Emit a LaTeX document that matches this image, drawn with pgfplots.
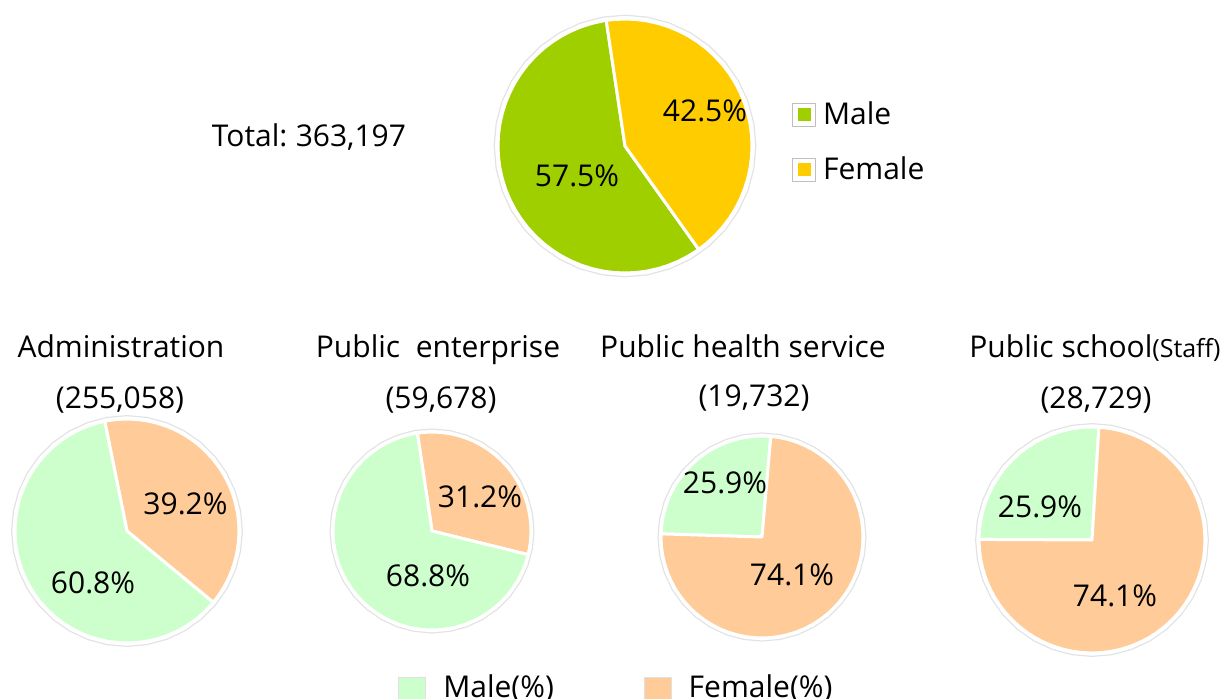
\documentclass[border=0pt]{standalone}
\usepackage{fontspec}
\setmainfont{Open Sans}
\usepackage{pgfplots}
\usepackage{pgfplotstable}
\pgfplotsset{compat=1.18}
\usepgfplotslibrary{polar}
\definecolor{tmale}{HTML}{A0CF00}
\definecolor{tfem}{HTML}{FFCC00}
\definecolor{bmale}{HTML}{CCFFCC}
\definecolor{bfem}{HTML}{FFCC99}
\newcommand{\lf}{\fontsize{15}{18}\selectfont}
\pgfplotstableread{
a r
0 1.03
10 1.03
20 1.03
30 1.03
40 1.03
50 1.03
60 1.03
70 1.03
80 1.03
90 1.03
100 1.03
110 1.03
120 1.03
130 1.03
140 1.03
150 1.03
160 1.03
170 1.03
180 1.03
190 1.03
200 1.03
210 1.03
220 1.03
230 1.03
240 1.03
250 1.03
260 1.03
270 1.03
280 1.03
290 1.03
300 1.03
310 1.03
320 1.03
330 1.03
340 1.03
350 1.03
360 1.03
}\ring
\pgfplotsset{
 pie/.style={hide axis, scale only axis, anchor=center, clip=false, xmin=-1, xmax=1, ymin=-1, ymax=1, data cs=polar},
 slice/.style={draw=white, line width=1.5pt, line join=round},
 ringst/.style={draw=black!11, line width=0.6pt, forget plot},
}
\begin{document}
\begin{tikzpicture}
\path[use as bounding box] (0,0) rectangle (616pt,349pt);
\clip (0,0) rectangle (616pt,349pt);
% ---------- top pie ----------
\begin{axis}[pie, at={(312.5pt,276pt)}, width=127pt, height=127pt,
  legend style={draw=none, fill=none, at={(1.157,0.681)}, anchor=north west, inner sep=0pt, row sep=13.5pt, font=\lf,
    nodes={inner sep=0pt, text height=12pt, text depth=2pt},
    /tikz/every odd column/.append style={column sep=3.5pt}},
  legend cell align=left,
  legend image code/.code={\draw[draw=black!25, fill=white, line width=0.4pt] (0pt,-5.75pt) rectangle (11.5pt,5.75pt);
     \fill[#1, draw=none] (2.5pt,-3.25pt) rectangle (9pt,3.25pt);}]
\addplot[ringst] table[x=a,y=r]{\ring};
\addplot[slice, fill=tmale] coordinates {(0,0) (98.5,1) (100,1) (105,1) (110,1) (115,1) (120,1) (125,1) (130,1) (135,1) (140,1) (145,1) (150,1) (155,1) (160,1) (165,1) (170,1) (175,1) (180,1) (185,1) (190,1) (195,1) (200,1) (205,1) (210,1) (215,1) (220,1) (225,1) (230,1) (235,1) (240,1) (245,1) (250,1) (255,1) (260,1) (265,1) (270,1) (275,1) (280,1) (285,1) (290,1) (295,1) (300,1) (305,1) (305.5,1)} -- cycle;
\addlegendentry{Male}
\addplot[slice, fill=tfem] coordinates {(0,0) (305.5,1) (310,1) (315,1) (320,1) (325,1) (330,1) (335,1) (340,1) (345,1) (350,1) (355,1) (360,1) (365,1) (370,1) (375,1) (380,1) (385,1) (390,1) (395,1) (400,1) (405,1) (410,1) (415,1) (420,1) (425,1) (430,1) (435,1) (440,1) (445,1) (450,1) (455,1) (458.5,1)} -- cycle;
\addlegendentry{Female}
\end{axis}
% ---------- Administration ----------
\begin{axis}[pie, at={(63.5pt,83.5pt)}, width=112pt, height=112pt]
\addplot[ringst] table[x=a,y=r]{\ring};
\addplot[slice, fill=bfem] coordinates {(0,0) (-39.6,1) (-35,1) (-30,1) (-25,1) (-20,1) (-15,1) (-10,1) (-5,1) (0,1) (5,1) (10,1) (15,1) (20,1) (25,1) (30,1) (35,1) (40,1) (45,1) (50,1) (55,1) (60,1) (65,1) (70,1) (75,1) (80,1) (85,1) (90,1) (95,1) (100,1) (101.5,1)} -- cycle;
\addplot[slice, fill=bmale] coordinates {(0,0) (101.5,1) (105,1) (110,1) (115,1) (120,1) (125,1) (130,1) (135,1) (140,1) (145,1) (150,1) (155,1) (160,1) (165,1) (170,1) (175,1) (180,1) (185,1) (190,1) (195,1) (200,1) (205,1) (210,1) (215,1) (220,1) (225,1) (230,1) (235,1) (240,1) (245,1) (250,1) (255,1) (260,1) (265,1) (270,1) (275,1) (280,1) (285,1) (290,1) (295,1) (300,1) (305,1) (310,1) (315,1) (320,1) (320.4,1)} -- cycle;
\end{axis}
% ---------- Public enterprise ----------
\begin{axis}[pie, at={(216pt,83.5pt)}, width=99pt, height=99pt]
\addplot[ringst] table[x=a,y=r]{\ring};
\addplot[slice, fill=bfem] coordinates {(0,0) (-13.8,1) (-10,1) (-5,1) (0,1) (5,1) (10,1) (15,1) (20,1) (25,1) (30,1) (35,1) (40,1) (45,1) (50,1) (55,1) (60,1) (65,1) (70,1) (75,1) (80,1) (85,1) (90,1) (95,1) (98.5,1)} -- cycle;
\addplot[slice, fill=bmale] coordinates {(0,0) (98.5,1) (100,1) (105,1) (110,1) (115,1) (120,1) (125,1) (130,1) (135,1) (140,1) (145,1) (150,1) (155,1) (160,1) (165,1) (170,1) (175,1) (180,1) (185,1) (190,1) (195,1) (200,1) (205,1) (210,1) (215,1) (220,1) (225,1) (230,1) (235,1) (240,1) (245,1) (250,1) (255,1) (260,1) (265,1) (270,1) (275,1) (280,1) (285,1) (290,1) (295,1) (300,1) (305,1) (310,1) (315,1) (320,1) (325,1) (330,1) (335,1) (340,1) (345,1) (346.2,1)} -- cycle;
\end{axis}
% ---------- Public health service ----------
\begin{axis}[pie, at={(381pt,80.5pt)}, width=101pt, height=101pt]
\addplot[ringst] table[x=a,y=r]{\ring};
\addplot[slice, fill=bmale] coordinates {(0,0) (85,1) (90,1) (95,1) (100,1) (105,1) (110,1) (115,1) (120,1) (125,1) (130,1) (135,1) (140,1) (145,1) (150,1) (155,1) (160,1) (165,1) (170,1) (175,1) (178.2,1)} -- cycle;
\addplot[slice, fill=bfem] coordinates {(0,0) (178.2,1) (180,1) (185,1) (190,1) (195,1) (200,1) (205,1) (210,1) (215,1) (220,1) (225,1) (230,1) (235,1) (240,1) (245,1) (250,1) (255,1) (260,1) (265,1) (270,1) (275,1) (280,1) (285,1) (290,1) (295,1) (300,1) (305,1) (310,1) (315,1) (320,1) (325,1) (330,1) (335,1) (340,1) (345,1) (350,1) (355,1) (360,1) (365,1) (370,1) (375,1) (380,1) (385,1) (390,1) (395,1) (400,1) (405,1) (410,1) (415,1) (420,1) (425,1) (430,1) (435,1) (440,1) (445,1)} -- cycle;
\end{axis}
% ---------- Public school (Staff) ----------
\begin{axis}[pie, at={(546pt,79pt)}, width=113pt, height=113pt]
\addplot[ringst] table[x=a,y=r]{\ring};
\addplot[slice, fill=bmale] coordinates {(0,0) (86.5,1) (90,1) (95,1) (100,1) (105,1) (110,1) (115,1) (120,1) (125,1) (130,1) (135,1) (140,1) (145,1) (150,1) (155,1) (160,1) (165,1) (170,1) (175,1) (179.7,1)} -- cycle;
\addplot[slice, fill=bfem] coordinates {(0,0) (179.7,1) (180,1) (185,1) (190,1) (195,1) (200,1) (205,1) (210,1) (215,1) (220,1) (225,1) (230,1) (235,1) (240,1) (245,1) (250,1) (255,1) (260,1) (265,1) (270,1) (275,1) (280,1) (285,1) (290,1) (295,1) (300,1) (305,1) (310,1) (315,1) (320,1) (325,1) (330,1) (335,1) (340,1) (345,1) (350,1) (355,1) (360,1) (365,1) (370,1) (375,1) (380,1) (385,1) (390,1) (395,1) (400,1) (405,1) (410,1) (415,1) (420,1) (425,1) (430,1) (435,1) (440,1) (445,1) (446.5,1)} -- cycle;
\end{axis}
% ---------- frame: texts and bottom legend ----------
\begin{axis}[at={(0pt,0pt)}, anchor=south west, scale only axis, width=616pt, height=349pt,
  xmin=0, xmax=1232, ymin=0, ymax=698, y dir=reverse, hide axis, clip=false,
  legend columns=2, legend cell align=left,
  legend style={draw=none, fill=none, at={(0.3231,0.0325)}, anchor=north west, inner sep=0pt, font=\lf,
    nodes={inner sep=0pt, text height=11pt, text depth=4pt},
    /tikz/every odd column/.append style={column sep=8.5pt},
    /tikz/every even column/.append style={column sep=45pt}},
  legend image code/.code={\draw[#1] (0pt,-6.75pt) rectangle (13.5pt,6.75pt);}]
\addlegendimage{fill=bmale, draw=black!12, line width=0.4pt}
\addlegendentry{Male(\%)}
\addlegendimage{fill=bfem, draw=black!12, line width=0.4pt}
\addlegendentry{Female(\%)}
\node[anchor=base, font=\lf] at (axis cs:309,146.7) {Total:\hspace{-1pt} 363,197};
\node[anchor=base, font=\lf] at (axis cs:705,121.7) {42.5\%};
\node[anchor=base, font=\lf] at (axis cs:577,186.7) {57.5\%};
\node[anchor=base, font=\lf] at (axis cs:121,357) {Administration};
\node[anchor=base, font=\lf] at (axis cs:438,357) {Public\ \ enterprise};
\node[anchor=base, font=\lf] at (axis cs:743,357) {Public health service};
\node[anchor=base, font=\lf] at (axis cs:1095,357) {Public school{\fontsize{12.5}{14}\selectfont(Staff)}};
\node[anchor=base, font=\lf] at (axis cs:120,408) {(255,058)};
\node[anchor=base, font=\lf] at (axis cs:441,408) {(59,678)};
\node[anchor=base, font=\lf] at (axis cs:754,406) {(19,732)};
\node[anchor=base, font=\lf] at (axis cs:1096,408) {(28,729)};
\node[anchor=base, font=\lf] at (axis cs:185.5,514) {39.2\%};
\node[anchor=base, font=\lf] at (axis cs:93,593) {60.8\%};
\node[anchor=base, font=\lf] at (axis cs:480,507) {31.2\%};
\node[anchor=base, font=\lf] at (axis cs:428,586) {68.8\%};
\node[anchor=base, font=\lf] at (axis cs:725,493) {25.9\%};
\node[anchor=base, font=\lf] at (axis cs:792,585) {74.1\%};
\node[anchor=base, font=\lf] at (axis cs:1040,517) {25.9\%};
\node[anchor=base, font=\lf] at (axis cs:1115,606) {74.1\%};
\end{axis}
\end{tikzpicture}
\end{document}
